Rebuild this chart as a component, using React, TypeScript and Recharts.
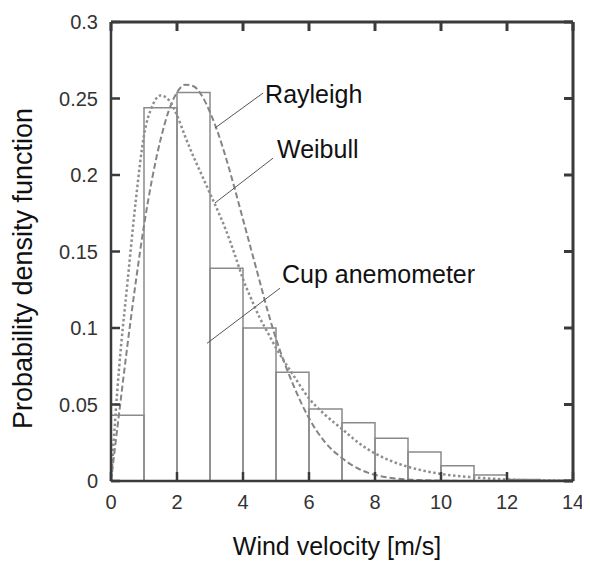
import {
  ComposedChart, Line, XAxis, YAxis, ReferenceArea, ReferenceLine, ReferenceDot,
} from 'recharts';

// histogram of cup anemometer readings, 1 m/s bins
const binStarts = [0, 1, 2, 3, 4, 5, 6, 7, 8, 9, 10, 11, 12, 13];
const cupFreq = [0.043, 0.244, 0.254, 0.139, 0.1, 0.071, 0.047, 0.038, 0.028, 0.019, 0.01, 0.004, 0.001, 0.0005];

// fitted curves
const velocity = [
  0, 0.25, 0.5, 0.75, 1, 1.25, 1.5, 1.75, 2, 2.25, 2.5, 2.75, 3, 3.25, 3.5, 3.75, 4, 4.25, 4.5, 4.75, 5,
  5.5, 6, 6.5, 7, 7.5, 8, 8.5, 9, 9.5, 10, 11, 12, 13, 14,
];
const rayleigh = [
  0, 0.045, 0.089, 0.13, 0.167, 0.198, 0.223, 0.242, 0.254, 0.259, 0.258, 0.252, 0.241, 0.227, 0.21, 0.191, 0.171, 0.151, 0.131, 0.111, 0.093,
  0.064, 0.041, 0.025, 0.015, 0.008, 0.004, 0.002, 0.001, 0.0005, 0.0002, 0, 0, 0, 0,
];
const weibull = [
  0, 0.075, 0.13, 0.183, 0.226, 0.245, 0.252, 0.249, 0.239, 0.225, 0.212, 0.2, 0.188, 0.176, 0.163, 0.148, 0.132, 0.119, 0.107, 0.097, 0.087,
  0.07, 0.054, 0.043, 0.034, 0.025, 0.018, 0.013, 0.0093, 0.0066, 0.0046, 0.0024, 0.001, 0.0004, 0.0001,
];

const xTicks = [0, 2, 4, 6, 8, 10, 12, 14];
const yTicks = [0, 0.05, 0.1, 0.15, 0.2, 0.25, 0.3];

const noteNames = ['Rayleigh', 'Weibull', 'Cup anemometer'];

// annotation placement (data units)
const notes = [
  { at: { x: 4.64, y: 0.253 }, from: { x: 4.61, y: 0.2536 }, to: { x: 3.15, y: 0.2307 } },
  { at: { x: 5.0, y: 0.217 }, from: { x: 4.91, y: 0.211 }, to: { x: 3.15, y: 0.1817 } },
  { at: { x: 5.15, y: 0.135 }, from: { x: 5.12, y: 0.126 }, to: { x: 2.91, y: 0.09 } },
];

const data = velocity.map((v, i) => ({ v, rayleigh: rayleigh[i], weibull: weibull[i] }));

const axisColor = '#3a3a3a';
const tickStyle = { fontSize: 20, fill: '#333' };
const blank = () => '';

export default function App() {
  return (
    <div style={{ fontFamily: '"Liberation Sans", Arial, sans-serif' }}>
      <ComposedChart width={582} height={554} data={data} margin={{ top: 4, right: 7, bottom: 0, left: 0 }}>
        <XAxis
          dataKey="v" type="number" domain={[0, 14]} ticks={xTicks} interval={0}
          height={81} tickSize={-9} tickMargin={23}
          stroke={axisColor} strokeWidth={2.5} tick={tickStyle}
          label={{ value: 'Wind velocity [m/s]', position: 'insideBottom', offset: 7, dx: -5, fontSize: 25, fill: '#111' }}
        />
        {/* mirror frame: top and right axes, ticks only */}
        <XAxis
          xAxisId="top" dataKey="v" orientation="top" type="number" domain={[0, 14]} ticks={xTicks} interval={0}
          height={10} tickSize={-9} tickFormatter={blank} stroke={axisColor} strokeWidth={3}
        />
        <YAxis
          type="number" domain={[0, 0.3]} ticks={yTicks} interval={0}
          width={103} tickSize={-9} tickMargin={22}
          stroke={axisColor} strokeWidth={2.5} tick={tickStyle}
          tickFormatter={v => `${v}`}
          label={{
            value: 'Probability density function', angle: -90, position: 'insideLeft',
            offset: 14, dy: 17, fontSize: 27, fill: '#111', style: { textAnchor: 'middle' },
          }}
        />
        <YAxis
          yAxisId="right" orientation="right" type="number" domain={[0, 0.3]} ticks={yTicks} interval={0}
          width={10} tickSize={-9} tickFormatter={blank} stroke={axisColor} strokeWidth={3}
        />

        {binStarts.map((s, i) => (
          <ReferenceArea
            key={s} x1={s} x2={s + 1} y1={0} y2={cupFreq[i]}
            fill="none" stroke="#8a8a8a" strokeWidth={1.5} ifOverflow="visible"
          />
        ))}

        <Line type="monotone" dataKey="rayleigh" stroke="#858585" strokeWidth={2} strokeDasharray="6 3" dot={false} isAnimationActive={false} />
        <Line
          xAxisId="top" yAxisId="right" type="monotone" dataKey="weibull"
          stroke="#8f8f8f" strokeWidth={2.5} strokeDasharray="2.5 2.5" dot={false} isAnimationActive={false}
        />

        {notes.map((n, i) => (
          <ReferenceLine key={`l${i}`} segment={[n.from, n.to]} stroke="#555" strokeWidth={1} ifOverflow="visible" />
        ))}
        {notes.map((n, i) => (
          <ReferenceDot
            key={`t${i}`} x={n.at.x} y={n.at.y} r={1} fill="none" stroke="none" ifOverflow="visible"
            label={{ value: noteNames[i], position: 'right', offset: 0, fontSize: 25, fill: '#111' }}
          />
        ))}
      </ComposedChart>
    </div>
  );
}
